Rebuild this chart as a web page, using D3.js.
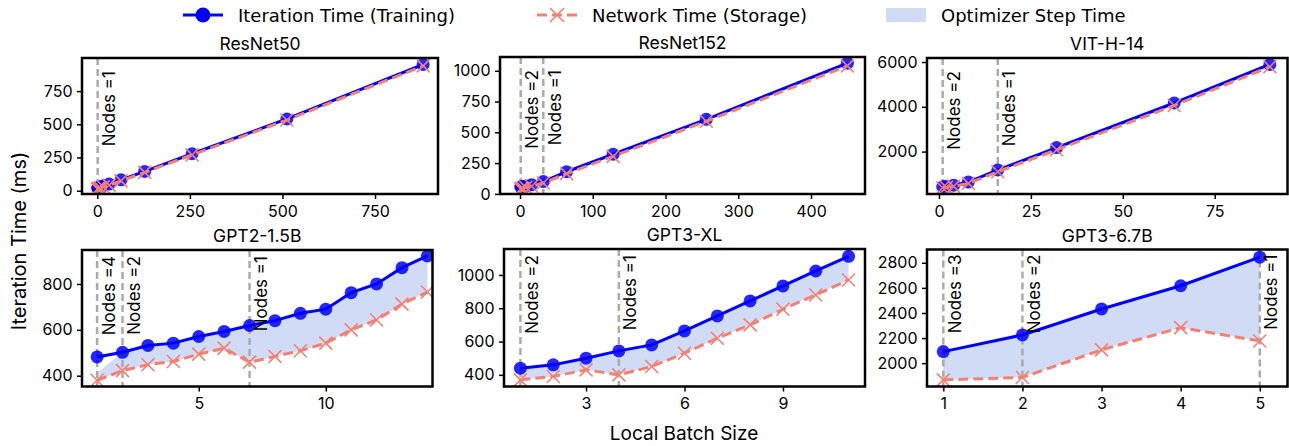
<!DOCTYPE html>
<html>
<head>
<meta charset="utf-8">
<script src="https://cdn.jsdelivr.net/npm/d3@7"></script>
<style>
  body { margin: 0; background: #fff; }
  svg text { font-family: Inter, "Liberation Sans", sans-serif; fill: #000; }
</style>
</head>
<body>
<svg id="chart" width="1289" height="446"></svg>
<script>
// ---- data ----
var legendLabels = ["Iteration Time (Training)", "Network Time (Storage)", "Optimizer Step Time"];

var resnet50Batch = [1, 2, 4, 8, 16, 32, 64, 128, 256, 512, 880];
var resnet50Iter  = [20, 22, 25, 30, 38, 50, 82, 145, 278, 540, 950];
var resnet50Net   = [12, 14, 17, 22, 30, 42, 74, 138, 270, 532, 940];
var resnet50Nodes = [[1, 1]];
var resnet50XTicks = [0, 250, 500, 750];
var resnet50YTicks = [0, 250, 500, 750];

var resnet152Batch = [1, 2, 4, 8, 16, 32, 64, 128, 256, 450];
var resnet152Iter  = [55, 57, 60, 65, 75, 100, 180, 322, 606, 1062];
var resnet152Net   = [40, 42, 45, 52, 62, 88, 165, 305, 590, 1040];
var resnet152Nodes = [[1, 2], [32, 1]];
var resnet152XTicks = [0, 100, 200, 300, 400];
var resnet152YTicks = [0, 250, 500, 750, 1000];

var vitBatch = [1, 2, 4, 8, 16, 32, 64, 90];
var vitIter  = [430, 450, 500, 640, 1180, 2180, 4170, 5890];
var vitNet   = [385, 400, 450, 580, 1100, 2080, 4060, 5790];
var vitNodes = [[1, 2], [16, 1]];
var vitXTicks = [0, 25, 50, 75];
var vitYTicks = [2000, 4000, 6000];

var gpt2Batch = [1, 2, 3, 4, 5, 6, 7, 8, 9, 10, 11, 12, 13, 14];
var gpt2Iter  = [482, 502, 532, 542, 571, 593, 619, 640, 672, 690, 762, 800, 871, 922];
var gpt2Net   = [380, 422, 448, 462, 494, 520, 459, 484, 509, 542, 600, 643, 712, 765];
var gpt2Step  = [412, 502, 532, 542, 571, 593, 619, 640, 672, 690, 762, 800, 871, 922];
var gpt2Nodes = [[1, 4], [2, 2], [7, 1]];
var gpt2XTicks = [5, 10];
var gpt2YTicks = [400, 600, 800];

var gpt3xlBatch = [1, 2, 3, 4, 5, 6, 7, 8, 9, 10, 11];
var gpt3xlIter  = [440, 460, 500, 544, 580, 664, 754, 844, 934, 1024, 1112];
var gpt3xlNet   = [370, 390, 430, 400, 450, 530, 620, 700, 794, 880, 970];
var gpt3xlNodes = [[1, 2], [4, 1]];
var gpt3xlXTicks = [3, 6, 9];
var gpt3xlYTicks = [400, 600, 800, 1000];

var gpt67Batch = [1, 2, 3, 4, 5];
var gpt67Iter  = [2092, 2225, 2432, 2617, 2845];
var gpt67Net   = [1867, 1886, 2106, 2283, 2177];
var gpt67Nodes = [[1, 3], [2, 2], [5, 1]];
var gpt67XTicks = [1, 2, 3, 4, 5];
var gpt67YTicks = [2000, 2200, 2400, 2600, 2800];

// ---- panel layout (box = left, top, right, bottom) ----
var panels = [
  {title: "ResNet50", x: resnet50Batch, iter: resnet50Iter, net: resnet50Net, step: resnet50Iter,
   nodes: resnet50Nodes, xTicks: resnet50XTicks, yTicks: resnet50YTicks,
   box: [82, 58, 438, 194], xDom: [-41.3, 920], yDom: [-24.8, 999], labelOff: 13},
  {title: "ResNet152", x: resnet152Batch, iter: resnet152Iter, net: resnet152Net, step: resnet152Iter,
   nodes: resnet152Nodes, xTicks: resnet152XTicks, yTicks: resnet152YTicks,
   box: [500, 57, 865, 194], xDom: [-27.5, 474.2], yDom: [-1, 1112], labelOff: 13},
  {title: "VIT-H-14", x: vitBatch, iter: vitIter, net: vitNet, step: vitIter,
   nodes: vitNodes, xTicks: vitXTicks, yTicks: vitYTicks,
   box: [927, 58, 1287.5, 194], xDom: [-3.26, 94.8], yDom: [107, 6179], labelOff: 13},
  {title: "GPT2-1.5B", x: gpt2Batch, iter: gpt2Iter, net: gpt2Net, step: gpt2Step,
   nodes: gpt2Nodes, xTicks: gpt2XTicks, yTicks: gpt2YTicks,
   box: [82, 250, 432.5, 386.5], xDom: [0.405, 14.2], yDom: [353, 948], labelOff: 6},
  {title: "GPT3-XL", x: gpt3xlBatch, iter: gpt3xlIter, net: gpt3xlNet, step: gpt3xlIter,
   nodes: gpt3xlNodes, xTicks: gpt3xlXTicks, yTicks: gpt3xlYTicks,
   box: [504, 249, 865, 386.5], xDom: [0.5, 11.5], yDom: [330, 1156], labelOff: 6},
  {title: "GPT3-6.7B", x: gpt67Batch, iter: gpt67Iter, net: gpt67Net, step: gpt67Iter,
   nodes: gpt67Nodes, xTicks: gpt67XTicks, yTicks: gpt67YTicks,
   box: [927, 249.5, 1287.5, 386.5], xDom: [0.794, 5.35], yDom: [1814, 2906], labelOff: 5}
];

var blue = "#0000ff";
var salmon = "#f48072";
var stepFill = "#d0dbf5";
var fmt = d3.format("d");

var svg = d3.select("#chart");

panels.forEach(function(p, i) {
  var left = p.box[0], top = p.box[1], right = p.box[2], bottom = p.box[3];
  var x = d3.scaleLinear().domain(p.xDom).range([left, right]);
  var y = d3.scaleLinear().domain(p.yDom).range([bottom, top]);
  var g = svg.append("g");

  g.append("clipPath").attr("id", "clip" + i)
    .append("rect").attr("x", left).attr("y", top)
    .attr("width", right - left).attr("height", bottom - top);

  var marks = g.append("g").attr("clip-path", "url(#clip" + i + ")");
  var idx = d3.range(p.x.length);

  // optimizer step area
  var area = d3.area()
    .x(function(j) { return x(p.x[j]); })
    .y0(function(j) { return y(p.net[j]); })
    .y1(function(j) { return y(p.step[j]); });
  marks.append("path").datum(idx).attr("d", area).attr("fill", stepFill);

  // node boundaries
  marks.selectAll(".vline").data(p.nodes).enter().append("line")
    .attr("x1", function(d) { return x(d[0]); })
    .attr("x2", function(d) { return x(d[0]); })
    .attr("y1", top).attr("y2", bottom)
    .attr("stroke", "#aaaaaa").attr("stroke-width", 2.5)
    .attr("stroke-dasharray", "7,4");

  // iteration time
  var lineIter = d3.line()
    .x(function(j) { return x(p.x[j]); })
    .y(function(j) { return y(p.iter[j]); });
  marks.append("path").datum(idx).attr("d", lineIter)
    .attr("fill", "none").attr("stroke", blue).attr("stroke-width", 3);
  marks.selectAll(".dot").data(idx).enter().append("circle")
    .attr("cx", function(j) { return x(p.x[j]); })
    .attr("cy", function(j) { return y(p.iter[j]); })
    .attr("r", 6.5).attr("fill", blue).attr("fill-opacity", 0.85);

  // network time
  var lineNet = d3.line()
    .x(function(j) { return x(p.x[j]); })
    .y(function(j) { return y(p.net[j]); });
  marks.append("path").datum(idx).attr("d", lineNet)
    .attr("fill", "none").attr("stroke", salmon).attr("stroke-width", 3)
    .attr("stroke-dasharray", "10,5");
  marks.selectAll(".xm").data(idx).enter().append("path")
    .attr("transform", function(j) { return "translate(" + x(p.x[j]) + "," + y(p.net[j]) + ")"; })
    .attr("d", "M-6.5,-6.5L6.5,6.5M-6.5,6.5L6.5,-6.5")
    .attr("stroke", salmon).attr("stroke-width", 1.6).attr("fill", "none");

  // node labels
  g.selectAll(".nlab").data(p.nodes).enter().append("text")
    .attr("transform", function(d) { return "translate(" + (x(d[0]) + 17.5) + "," + (top + p.labelOff) + ") rotate(-90)"; })
    .attr("text-anchor", "end")
    .style("font-size", "17px")
    .text(function(d) { return "Nodes =" + d[1]; });

  // axes
  var xa = g.append("g").attr("transform", "translate(0," + bottom + ")")
    .call(d3.axisBottom(x).tickValues(p.xTicks).tickFormat(fmt).tickSize(5).tickPadding(6.5));
  var ya = g.append("g").attr("transform", "translate(" + left + ",0)")
    .call(d3.axisLeft(y).tickValues(p.yTicks).tickFormat(fmt).tickSize(5).tickPadding(4.5));
  [xa, ya].forEach(function(a) {
    a.select(".domain").remove();
    a.selectAll(".tick line").attr("stroke", "#000").attr("stroke-width", 1.5);
    a.selectAll(".tick text").style("font-size", "16px")
      .style("font-family", "Inter, 'Liberation Sans', sans-serif").attr("fill", "#000");
  });

  // frame
  g.append("rect").attr("x", left).attr("y", top)
    .attr("width", right - left).attr("height", bottom - top)
    .attr("fill", "none").attr("stroke", "#000").attr("stroke-width", 2.5);

  // title
  g.append("text").attr("x", (left + right) / 2).attr("y", top - 8)
    .attr("text-anchor", "middle").style("font-size", "17.5px")
    .text(p.title);
});

// shared axis labels
svg.append("text").attr("x", 684).attr("y", 440).attr("text-anchor", "middle")
  .style("font-size", "19px").text("Local Batch Size");
svg.append("text").attr("transform", "translate(25.5,241) rotate(-90)")
  .attr("text-anchor", "middle").style("font-size", "20px").text("Iteration Time (ms)");

// legend
var legend = svg.append("g").style("font-family", "'DejaVu Sans', sans-serif");
var ly = 15;
legend.append("line").attr("x1", 183).attr("x2", 223).attr("y1", ly).attr("y2", ly)
  .attr("stroke", blue).attr("stroke-width", 3);
legend.append("circle").attr("cx", 203).attr("cy", ly).attr("r", 7.5).attr("fill", blue);
legend.append("line").attr("x1", 537).attr("x2", 577).attr("y1", ly).attr("y2", ly)
  .attr("stroke", salmon).attr("stroke-width", 3).attr("stroke-dasharray", "10,5");
legend.append("path").attr("transform", "translate(557," + ly + ")")
  .attr("d", "M-7,-7L7,7M-7,7L7,-7").attr("stroke", salmon).attr("stroke-width", 1.6);
legend.append("rect").attr("x", 886).attr("y", ly - 7).attr("width", 40).attr("height", 14)
  .attr("fill", stepFill);
var legendX = [238, 592, 941];
legend.selectAll(".ltext").data(legendLabels).enter().append("text")
  .attr("x", function(d, i) { return legendX[i]; })
  .attr("y", ly + 6.5)
  .style("font-family", "'DejaVu Sans', sans-serif")
  .style("font-size", "18px")
  .text(function(d) { return d; });
</script>
</body>
</html>
